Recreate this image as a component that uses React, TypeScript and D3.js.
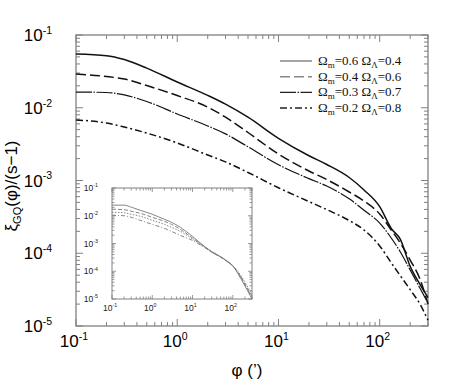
import React, { useEffect, useRef } from 'react'
import * as d3 from 'd3'

// angular separation (arcmin)
const phi = [0.1, 0.2, 0.3, 0.5, 1, 2, 3, 5, 10, 20, 30, 50, 70, 100, 130, 160, 200, 250, 300]

// main panel: xi_GQ / (s-1)
const om06 = [0.0548, 0.052, 0.046, 0.0351, 0.0226, 0.0148, 0.01122, 0.00741, 0.0038, 0.00219, 0.00166, 0.0011, 7.41e-4, 4.37e-4, 2.19e-4, 1.55e-4, 6.6e-5, 3.72e-5, 2.45e-5]
const om04 = [0.0291, 0.0269, 0.0248, 0.0202, 0.0147, 0.0102, 0.00741, 0.00457, 0.00231, 0.00135, 0.00103, 6.95e-4, 5.22e-4, 3.46e-4, 2.09e-4, 1.38e-4, 8.07e-5, 4.42e-5, 2.0e-5]
const om03 = [0.01644, 0.0162, 0.015, 0.0122, 0.0082, 0.00562, 0.00437, 0.0029, 0.00165, 0.00106, 8.39e-4, 5.6e-4, 3.9e-4, 2.6e-4, 1.62e-4, 1.04e-4, 5.89e-5, 3.3e-5, 2.07e-5]
const om02 = [0.00679, 0.00617, 0.00543, 0.00449, 0.00328, 0.00224, 0.0018, 0.00129, 7.94e-4, 5.13e-4, 3.98e-4, 2.82e-4, 2.09e-4, 1.26e-4, 7.41e-5, 4.9e-5, 3.16e-5, 2.0e-5, 1.2e-5]

// inset panel
const in06 = [0.0241, 0.0241, 0.0204, 0.0158, 0.0113, 0.00746, 0.00581, 0.00382, 0.0018, 7.78e-4, 5.12e-4, 3.37e-4, 2.41e-4, 1.58e-4, 8.82e-5, 5.33e-5, 2.97e-5, 1.65e-5, 1.0e-5]
const in04 = [0.0172, 0.0165, 0.0146, 0.0123, 0.0088, 0.0063, 0.0049, 0.00323, 0.00158, 7.46e-4, 4.91e-4, 3.23e-4, 2.31e-4, 1.52e-4, 9.6e-5, 6.3e-5, 3.5e-5, 1.95e-5, 1.29e-5]
const in03 = [0.0134, 0.0129, 0.0113, 0.0096, 0.00686, 0.0049, 0.00382, 0.00273, 0.00146, 7.46e-4, 4.91e-4, 3.23e-4, 2.41e-4, 1.58e-4, 1.04e-4, 6.86e-5, 4.15e-5, 2.31e-5, 1.52e-5]
const in02 = [0.0104, 0.01, 0.0088, 0.00686, 0.0049, 0.00351, 0.00273, 0.00195, 0.00129, 7.16e-4, 4.91e-4, 3.23e-4, 2.31e-4, 1.58e-4, 9.6e-5, 5.8e-5, 3.23e-5, 1.8e-5, 1.09e-5]

const xTicks = [0.1, 1, 10, 100]
const xTickExp = ['-1', '0', '1', '2']
const yTicks = [1e-1, 1e-2, 1e-3, 1e-4, 1e-5]
const yTickExp = ['-1', '-2', '-3', '-4', '-5']
const legendM = ['0.6', '0.4', '0.3', '0.2']
const legendL = ['0.4', '0.6', '0.7', '0.8']

const dashes = ['none', '10,4', '16,1.5,1.5,1.5', '7,3,2,3']
const widths = [1.5, 1.5, 1.2, 1.5]
const mainSeries = [om06, om04, om03, om02]
const insetSeries = [in06, in04, in03, in02]

const SANS = 'Helvetica, Arial, "Liberation Sans", sans-serif'
const SERIF = '"Times New Roman", "Liberation Serif", serif'
const FRAME = '#808080'

function minorTicks(lo: number, hi: number) {
  const out: number[] = []
  for (let e = Math.floor(Math.log10(lo)); e <= Math.ceil(Math.log10(hi)); e++) {
    for (let m = 1; m < 10; m++) {
      const v = m * Math.pow(10, e)
      if (v >= lo * 0.999 && v <= hi * 1.001) out.push(v)
    }
  }
  return out
}

function drawPanel(g: any, x: any, y: any, opt: any) {
  const [x0, x1] = x.range()
  const [y0, y1] = y.range() // y0 bottom, y1 top
  g.append('rect')
    .attr('x', x0).attr('y', y1).attr('width', x1 - x0).attr('height', y0 - y1)
    .attr('fill', 'white').attr('stroke', FRAME).attr('stroke-width', opt.frameW)

  const xd = x.domain()
  const yd = y.domain()
  const xt = minorTicks(xd[0], xd[1])
  const yt = minorTicks(yd[0], yd[1])
  const isMajor = (v: number) => Math.abs(Math.log10(v) - Math.round(Math.log10(v))) < 1e-6

  xt.forEach(v => {
    const L = isMajor(v) ? opt.major : opt.minor
    const px = x(v)
    g.append('line').attr('x1', px).attr('x2', px).attr('y1', y0).attr('y2', y0 - L)
      .attr('stroke', FRAME).attr('stroke-width', opt.tickW)
    g.append('line').attr('x1', px).attr('x2', px).attr('y1', y1).attr('y2', y1 + L)
      .attr('stroke', FRAME).attr('stroke-width', opt.tickW)
  })
  yt.forEach(v => {
    const L = isMajor(v) ? opt.major : opt.minor
    const py = y(v)
    g.append('line').attr('x1', x0).attr('x2', x0 + L).attr('y1', py).attr('y2', py)
      .attr('stroke', FRAME).attr('stroke-width', opt.tickW)
    g.append('line').attr('x1', x1).attr('x2', x1 - L).attr('y1', py).attr('y2', py)
      .attr('stroke', FRAME).attr('stroke-width', opt.tickW)
  })

  // tick labels, 10 with a raised exponent
  xTicks.forEach((v, i) => {
    const t = g.append('text').attr('x', x(v) + opt.xLabDx).attr('y', y0 + opt.xLabDy)
      .attr('text-anchor', 'middle').attr('font-family', SANS).attr('font-size', opt.font)
      .attr('fill', opt.labColor)
    t.append('tspan').text('10')
    t.append('tspan').attr('dy', -opt.font * 0.42).attr('font-size', opt.font * 0.62).text(xTickExp[i])
  })
  yTicks.forEach((v, i) => {
    const t = g.append('text').attr('x', x0 - opt.yLabDx).attr('y', y(v) + opt.font * 0.36)
      .attr('text-anchor', 'end').attr('font-family', SANS).attr('font-size', opt.font)
      .attr('fill', opt.labColor)
    t.append('tspan').text('10')
    t.append('tspan').attr('dy', -opt.font * 0.42).attr('font-size', opt.font * 0.62).text(yTickExp[i])
  })
}

export default function App() {
  const ref = useRef<SVGSVGElement>(null)

  useEffect(() => {
    const svg = d3.select(ref.current)
    svg.selectAll('*').remove()

    const x = d3.scaleLog().domain([0.1, 300]).range([76, 428])
    const y = d3.scaleLog().domain([1e-5, 1e-1]).range([326, 35])

    const main = svg.append('g')
    drawPanel(main, x, y, {
      frameW: 1.3, tickW: 1, major: 7, minor: 4, font: 17, labColor: '#000',
      xLabDx: -2, xLabDy: 21, yLabDx: 24,
    })

    const line = d3.line<number>()
      .x((_, i) => x(phi[i]))
      .y(d => y(d))
      .curve(d3.curveMonotoneX)

    mainSeries.forEach((s, k) => {
      main.append('path').attr('d', line(s)).attr('fill', 'none')
        .attr('stroke', '#111').attr('stroke-width', widths[k])
        .attr('stroke-dasharray', dashes[k])
    })

    // legend
    const legCol = ['#888', '#888', '#222', '#222']
    legendM.forEach((m, k) => {
      const ly = 61 + k * 15.7
      main.append('line').attr('x1', 280).attr('x2', 312).attr('y1', ly).attr('y2', ly)
        .attr('stroke', legCol[k]).attr('stroke-width', widths[k]).attr('stroke-dasharray', dashes[k])
      const t = main.append('text').attr('x', 318).attr('y', ly + 4)
        .attr('font-family', SERIF).attr('font-size', 13).attr('fill', '#111')
      t.append('tspan').text('Ω')
      t.append('tspan').attr('dy', 3).attr('font-size', 9).text('m')
      t.append('tspan').attr('dy', -3).text('=' + m + ' Ω')
      t.append('tspan').attr('dy', 3).attr('font-size', 9).text('Λ')
      t.append('tspan').attr('dy', -3).text('=' + legendL[k])
    })

    // inset
    const xi = d3.scaleLog().domain([0.1, 300]).range([112, 252])
    const yi = d3.scaleLog().domain([1e-5, 1e-1]).range([299, 188])
    const inset = svg.append('g')
    drawPanel(inset, xi, yi, {
      frameW: 1, tickW: 0.8, major: 4, minor: 2.5, font: 8.5, labColor: '#222',
      xLabDx: -2, xLabDy: 12, yLabDx: 14,
    })
    const lineI = d3.line<number>()
      .x((_, i) => xi(phi[i]))
      .y(d => yi(d))
      .curve(d3.curveMonotoneX)
    const inDash = ['none', '4,2', '1.5,1.5', '4,2,1,2']
    insetSeries.forEach((s, k) => {
      inset.append('path').attr('d', lineI(s)).attr('fill', 'none')
        .attr('stroke', '#777').attr('stroke-width', 0.9)
        .attr('stroke-dasharray', inDash[k])
    })

    // axis titles
    const xt = svg.append('text').attr('x', 247).attr('y', 376).attr('text-anchor', 'middle')
      .attr('font-family', SANS).attr('font-size', 17).attr('fill', '#000')
    xt.text('φ (’)')

    const yt = svg.append('text')
      .attr('transform', 'translate(17,186) rotate(-90)')
      .attr('text-anchor', 'middle').attr('font-family', SANS).attr('font-size', 17).attr('fill', '#000')
    yt.append('tspan').text('ξ')
    yt.append('tspan').attr('dy', 4).attr('font-size', 11).text('GQ')
    yt.append('tspan').attr('dy', -4).text('(φ)/(s−1)')
  }, [])

  return (
    <svg
      ref={ref}
      width={474}
      height={389}
      style={{ position: 'absolute', left: 0, top: 0, background: 'white' }}
    />
  )
}
